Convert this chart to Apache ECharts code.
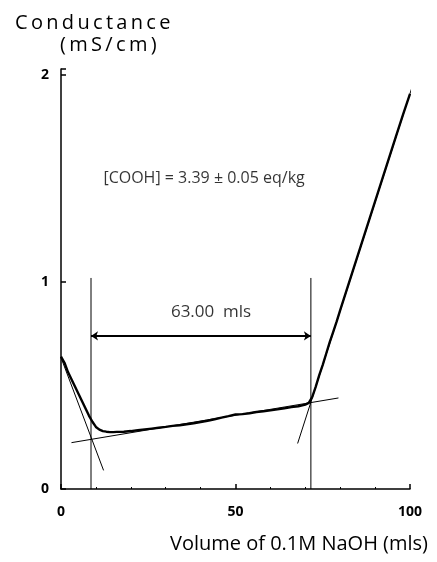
<!DOCTYPE html>
<html>
<head>
<meta charset="utf-8">
<script src="https://cdn.jsdelivr.net/npm/echarts@6/dist/echarts.min.js"></script>
<style>
    html, body { margin: 0; padding: 0; background: #fff; }
    #chart_box { width: 437px; height: 562px; }
</style>
</head>
<body>
<div id="chart_box"></div>
<script>
// titration readings (ml NaOH -> mS/cm)
var volume = [0, 1, 2, 3, 4, 5, 6, 7, 8, 9, 10, 11, 12, 13, 14, 15, 16, 18, 20, 22, 24, 26, 28, 30,
    32, 34, 36, 38, 40, 42, 44, 46, 48, 50, 52, 54, 56, 58, 60, 62, 64, 66, 68, 70, 71, 72, 73, 74,
    75, 76, 77, 78, 79, 80, 82, 84, 86, 88, 90, 92, 94, 96, 98, 100];
var conductance = [0.64, 0.61, 0.565, 0.53, 0.495, 0.46, 0.425, 0.39, 0.355, 0.325, 0.30, 0.287, 0.28,
    0.277, 0.275, 0.275, 0.276, 0.277, 0.28, 0.284, 0.288, 0.292, 0.296, 0.30, 0.305, 0.308, 0.313,
    0.318, 0.324, 0.33, 0.337, 0.345, 0.352, 0.36, 0.362, 0.366, 0.372, 0.376, 0.38, 0.385, 0.39,
    0.396, 0.40, 0.408, 0.416, 0.445, 0.495, 0.55, 0.60, 0.655, 0.71, 0.76, 0.81, 0.865, 0.97, 1.075,
    1.18, 1.285, 1.39, 1.495, 1.60, 1.705, 1.81, 1.91];

// fitted lines
var fallLine = [[0, 0.635], [12.2, 0.09]];
var flatLine = [[3, 0.224], [79.5, 0.44]];
var riseLine = [[67.8, 0.22], [103.4, 2.09]];

// end points, marker height and the double arrow
var endPoints = [8.6, 71.6];
var markTop = 1.02;
var arrowY = 0.74;

var xTicks = [0, 50, 100];
var yTicks = [0, 1, 2];

var notes = ['[COOH] = 3.39 \u00b1 0.05 eq/kg', '63.00  mls'];
var notePos = [[41, 1.50], [43, 0.855]];
var noteSize = [16, 17];

(function() {
    var myChart = echarts.init(document.getElementById('chart_box'));

    function spaced(s) {
        return s.split('').join('\u2009');
    }

    var curve = [];
    for (var i = 0; i < volume.length; i++) {
        curve.push([volume[i], conductance[i]]);
    }

    var thin = { color: '#000', width: 1 };

    function straight(data) {
        return {
            type: 'line',
            data: data,
            showSymbol: false,
            clip: false,
            silent: true,
            lineStyle: thin
        };
    }

    var series = [
        {
            type: 'line',
            data: curve,
            showSymbol: false,
            silent: true,
            lineStyle: { color: '#000', width: 2.4 }
        },
        straight(fallLine),
        straight(flatLine),
        straight(riseLine)
    ];
    for (var k = 0; k < endPoints.length; k++) {
        series.push(straight([[endPoints[k], 0], [endPoints[k], markTop]]));
    }
    series.push({
        type: 'lines',
        coordinateSystem: 'cartesian2d',
        silent: true,
        symbol: ['arrow', 'arrow'],
        symbolSize: 7,
        lineStyle: { color: '#000', width: 2, opacity: 1 },
        data: [{ coords: [[endPoints[0], arrowY], [endPoints[1], arrowY]] }]
    });
    var noteData = [];
    for (var n = 0; n < notes.length; n++) {
        noteData.push({
            value: notePos[n],
            name: notes[n],
            label: { fontSize: noteSize[n] }
        });
    }
    series.push({
        type: 'scatter',
        symbolSize: 0,
        silent: true,
        data: noteData,
        label: {
            show: true,
            position: 'inside',
            formatter: '{b}',
            color: '#000',
            fontFamily: 'Open Sans'
        }
    });

    myChart.setOption({
        animation: false,
        backgroundColor: '#fff',
        textStyle: { fontFamily: 'Open Sans' },
        title: [{
            text: spaced('Conductance'),
            left: 10,
            top: 8,
            textStyle: { color: '#000', fontSize: 20, fontWeight: 'normal', fontFamily: 'Open Sans' }
        }, {
            text: spaced('(mS/cm)'),
            left: 55,
            top: 30,
            textStyle: { color: '#000', fontSize: 20, fontWeight: 'normal', fontFamily: 'Open Sans' }
        }, {
            text: 'Volume of 0.1M NaOH (mls)',
            right: 4,
            top: 529,
            textStyle: { color: '#000', fontSize: 20, fontWeight: 'normal', fontFamily: 'Open Sans' }
        }],
        grid: { left: 61, right: 27, top: 69, bottom: 73 },
        xAxis: {
            type: 'value',
            min: 0,
            max: 100,
            interval: 50,
            splitLine: { show: false },
            axisLine: { lineStyle: { color: '#000', width: 1.5 } },
            axisTick: { inside: true, length: 5, lineStyle: { color: '#000', width: 1.5 } },
            minorTick: { show: true, splitNumber: 5, length: 2, lineStyle: { color: '#000' } },
            axisLabel: {
                color: '#000', fontSize: 14, fontWeight: 'bold', margin: 16,
                formatter: function(v) { return xTicks.indexOf(v) >= 0 ? String(v) : ''; }
            }
        },
        yAxis: {
            type: 'value',
            min: 0,
            max: 2.03,
            interval: 1,
            splitLine: { show: false },
            axisLine: { show: true, lineStyle: { color: '#000', width: 1.5 } },
            axisTick: { show: true, inside: true, length: 5, lineStyle: { color: '#000', width: 1.5 } },
            axisLabel: {
                color: '#000', fontSize: 14, fontWeight: 'bold', margin: 12,
                formatter: function(v) { return yTicks.indexOf(v) >= 0 ? String(v) : ''; }
            }
        },
        series: series
    });
})();
</script>
</body>
</html>
